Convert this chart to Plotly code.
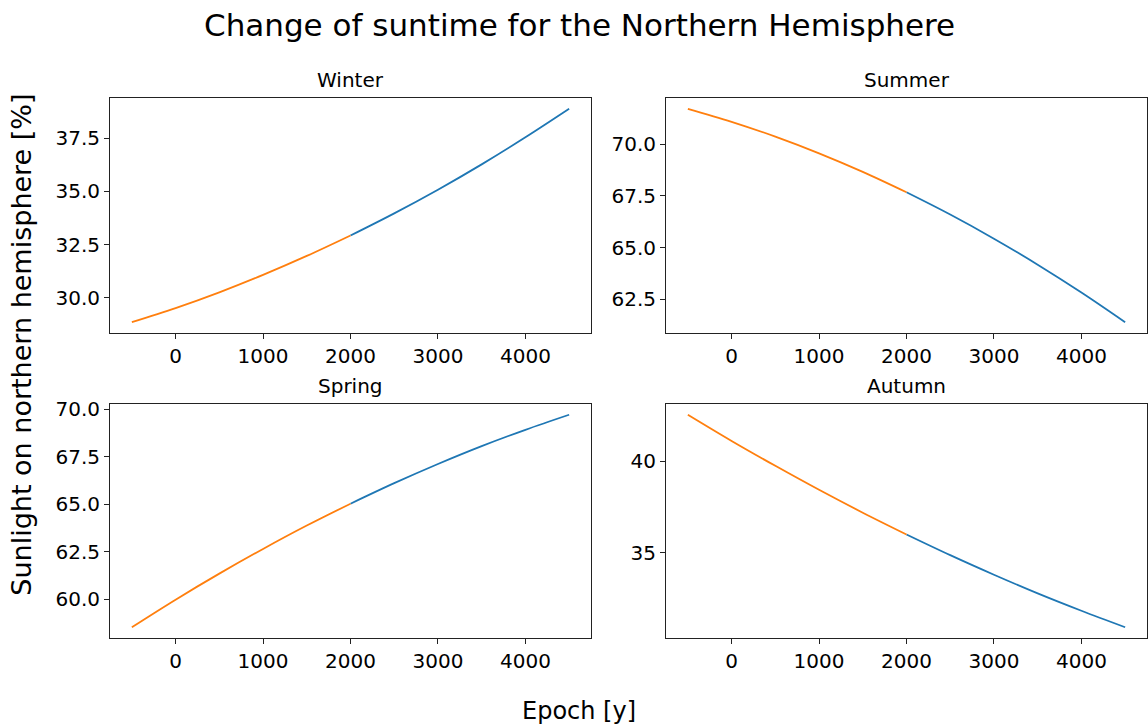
import plotly.graph_objects as go

# Epochs (years) shared by all four seasons
years = [-500, 0, 500, 1000, 1500, 2000, 2500, 3000, 3500, 4000, 4500]
split_year = 2000  # past (orange) vs. future (blue)

# Share of sunlight on the northern hemisphere [%] per season
winter = [28.86, 29.52, 30.26, 31.08, 31.97, 32.93, 33.97, 35.08, 36.27, 37.54, 38.88]
summer = [71.73, 71.10, 70.38, 69.57, 68.67, 67.68, 66.60, 65.43, 64.17, 62.82, 61.38]
spring = [58.52, 59.97, 61.34, 62.64, 63.87, 65.02, 66.10, 67.11, 68.05, 68.91, 69.70]
autumn = [42.54, 41.11, 39.75, 38.44, 37.19, 36.00, 34.87, 33.80, 32.78, 31.83, 30.93]

seasons = ["Winter", "Summer", "Spring", "Autumn"]
series = [winter, summer, spring, autumn]
y_dticks = [2.5, 2.5, 2.5, 5]
y_formats = [".1f", ".1f", ".1f", "d"]

W, H = 1148, 727
FONT = "DejaVu Sans"
ORANGE = "#ff7f0e"
BLUE = "#1f77b4"

# Axes boxes in pixels: (left, right, top, bottom)
boxes = [(110, 591, 92, 329), (666, 1147, 92, 329),
         (110, 591, 401, 637), (666, 1147, 401, 637)]

fig = go.Figure()
annotations = []
layout_axes = {}

for i, (name, vals, box) in enumerate(zip(seasons, series, boxes)):
    n = "" if i == 0 else str(i + 1)
    xa, ya = "x" + n, "y" + n
    past_x = [x for x in years if x <= split_year]
    past_y = [v for x, v in zip(years, vals) if x <= split_year]
    fut_x = [x for x in years if x >= split_year]
    fut_y = [v for x, v in zip(years, vals) if x >= split_year]
    fig.add_trace(go.Scatter(x=fut_x, y=fut_y, mode="lines",
                             line=dict(color=BLUE, width=1.8, shape="spline"),
                             xaxis=xa, yaxis=ya, showlegend=False))
    fig.add_trace(go.Scatter(x=past_x, y=past_y, mode="lines",
                             line=dict(color=ORANGE, width=1.8, shape="spline"),
                             xaxis=xa, yaxis=ya, showlegend=False))

    l, r, t, b = box
    lo, hi = min(vals), max(vals)
    pad = (hi - lo) * 0.05
    axis_common = dict(showline=True, linecolor="#222222", linewidth=1, mirror=True,
                       ticks="outside", ticklen=5, tickwidth=1, tickcolor="#222222",
                       showgrid=False, zeroline=False,
                       tickfont=dict(family=FONT, size=20, color="black"))
    layout_axes["xaxis" + n] = dict(domain=[l / W, r / W], anchor=ya,
                                    range=[-750, 4750], dtick=1000, tick0=0,
                                    **axis_common)
    layout_axes["yaxis" + n] = dict(domain=[1 - b / H, 1 - t / H], anchor=xa,
                                    range=[lo - pad, hi + pad],
                                    dtick=y_dticks[i], tick0=0,
                                    tickformat=y_formats[i], **axis_common)
    annotations.append(dict(text=name, x=(l + r) / 2 / W, y=1 - (t - 4) / H,
                            xref="paper", yref="paper", xanchor="center",
                            yanchor="bottom", showarrow=False,
                            font=dict(family=FONT, size=20, color="black")))

annotations += [
    dict(text="Change of suntime for the Northern Hemisphere", x=579 / W, y=1 - 18 / H,
         xref="paper", yref="paper", xanchor="center", yanchor="middle",
         showarrow=False, font=dict(family=FONT, size=31, color="black")),
    dict(text="Epoch [y]", x=579 / W, y=1 - 711 / H, xref="paper", yref="paper",
         xanchor="center", yanchor="middle", showarrow=False,
         font=dict(family=FONT, size=24, color="black")),
    dict(text="Sunlight on northern hemisphere [%]", x=22 / W, y=1 - 341 / H,
         xref="paper", yref="paper", xanchor="center", yanchor="middle",
         textangle=-90, showarrow=False,
         font=dict(family=FONT, size=27, color="black")),
]

fig.update_layout(width=W, height=H, margin=dict(l=0, r=0, t=0, b=0),
                  paper_bgcolor="white", plot_bgcolor="white",
                  annotations=annotations, **layout_axes)

fig.write_html("out.html")
